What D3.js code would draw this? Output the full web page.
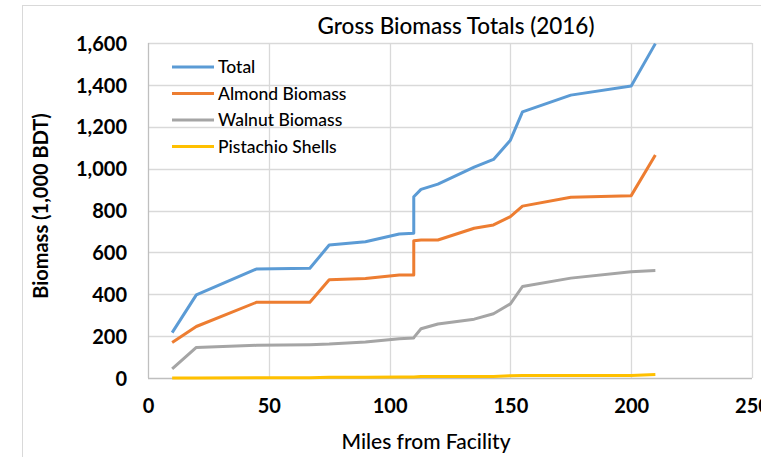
<!DOCTYPE html>
<html>
<head>
<meta charset="utf-8">
<script src="https://cdn.jsdelivr.net/npm/d3@7"></script>
<style>
  body { margin: 0; background: #ffffff; }
  svg { display: block; font-family: Lato, "Open Sans", sans-serif; }
</style>
</head>
<body>
<div id="chart"></div>
<script>
// global variables
var WIDTH = 761;
var HEIGHT = 457;
var MARGIN = { top: 43, right: 9, bottom: 79, left: 148 };

// data (miles, 1,000 BDT)
var miles     = [10, 20, 45, 67, 75, 90, 104, 110, 110, 113, 120, 135, 143, 150, 155, 175, 200, 210];
var total     = [217, 397, 521, 524, 635, 651, 688, 691, 866, 901, 926, 1007, 1044, 1136, 1271, 1351, 1395, 1597];
var almond    = [170, 246, 362, 362, 469, 475, 492, 492, 656, 659, 659, 715, 731, 771, 821, 863, 871, 1065];
var walnut    = [44, 146, 156, 159, 162, 172, 187, 191, 193, 235, 258, 281, 307, 354, 437, 477, 508, 513];
var pistachio = [0, 0, 1, 1, 4, 4, 5, 5, 5, 7, 7, 7, 7, 11, 12, 12, 12, 17];

var seriesNames  = ["Total", "Almond Biomass", "Walnut Biomass", "Pistachio Shells"];
var seriesColors = ["#5b9bd5", "#ed7d31", "#a5a5a5", "#ffc000"];
var seriesValues = [total, almond, walnut, pistachio];

var xTicks = [0, 50, 100, 150, 200, 250];
var yTicks = [0, 200, 400, 600, 800, 1000, 1200, 1400, 1600];

document.addEventListener("DOMContentLoaded", function() {
    drawChart();
});

function drawChart() {
    var svg = d3.select("#chart")
                .append("svg")
                .attr("width", WIDTH)
                .attr("height", HEIGHT);

    // outer chart frame (runs off the right and bottom edge)
    svg.append("rect")
       .attr("x", 22.5)
       .attr("y", 5.5)
       .attr("width", 800)
       .attr("height", 500)
       .attr("fill", "white")
       .attr("stroke", "#d9d9d9");

    var x = d3.scaleLinear()
              .domain([0, 250])
              .range([MARGIN.left, WIDTH - MARGIN.right]);
    var y = d3.scaleLinear()
              .domain([0, 1600])
              .range([HEIGHT - MARGIN.bottom, MARGIN.top]);

    // grid lines
    svg.append("g")
       .selectAll("line")
       .data(yTicks)
       .join("line")
       .attr("x1", x(0))
       .attr("x2", x(250))
       .attr("y1", function(d) { return Math.round(y(d)) + 0.5; })
       .attr("y2", function(d) { return Math.round(y(d)) + 0.5; })
       .attr("stroke", function(d) { return d == 0 ? "#bfbfbf" : "#d9d9d9"; })
       .attr("stroke-width", 1.3);

    svg.append("g")
       .selectAll("line")
       .data(xTicks)
       .join("line")
       .attr("x1", function(d) { return Math.round(x(d)) + 0.5; })
       .attr("x2", function(d) { return Math.round(x(d)) + 0.5; })
       .attr("y1", y(0))
       .attr("y2", y(1600))
       .attr("stroke", function(d) { return d == 0 ? "#bfbfbf" : "#d9d9d9"; })
       .attr("stroke-width", 1.3);

    // axes: labels only, the lines are the grid above
    var fmt = d3.format(",");
    var yAxis = svg.append("g")
                   .attr("transform", "translate(" + x(0) + ",0)")
                   .call(d3.axisLeft(y).tickValues(yTicks).tickFormat(fmt).tickSize(0).tickPadding(21));
    var xAxis = svg.append("g")
                   .attr("transform", "translate(0," + y(0) + ")")
                   .call(d3.axisBottom(x).tickValues(xTicks).tickSize(0).tickPadding(21));

    [xAxis, yAxis].forEach(function(ax) {
        ax.select(".domain").remove();
        ax.selectAll("text")
          .attr("fill", "#000")
          .style("font-family", "Lato, 'Open Sans', sans-serif")
          .style("font-size", "20px")
          .style("font-weight", "bold");
    });
    yAxis.selectAll("text").attr("dy", "0.36em");
    xAxis.selectAll("text").attr("dy", "0.7em");

    // series lines
    var line = d3.line()
                 .x(function(d, i) { return x(miles[i]); })
                 .y(function(d) { return y(d); });

    for (var s = seriesValues.length - 1; s >= 0; s--) {
        svg.append("path")
           .datum(seriesValues[s])
           .attr("d", line)
           .attr("fill", "none")
           .attr("stroke", seriesColors[s])
           .attr("stroke-width", 3)
           .attr("stroke-linejoin", "round");
    }

    // legend
    var legend = svg.append("g");
    for (var i = 0; i < seriesNames.length; i++) {
        var ly = 67 + i * 26.5;
        legend.append("line")
              .attr("x1", 172)
              .attr("x2", 214)
              .attr("y1", ly)
              .attr("y2", ly)
              .attr("stroke", seriesColors[i])
              .attr("stroke-width", 3);
        legend.append("text")
              .attr("x", 218)
              .attr("y", ly)
              .attr("dy", "0.35em")
              .style("font-size", "17.5px")
              .style("font-weight", 500)
              .text(seriesNames[i]);
    }

    // title
    svg.append("text")
       .attr("x", 456)
       .attr("y", 34)
       .attr("text-anchor", "middle")
       .style("font-size", "22.5px")
       .style("font-weight", 500)
       .text("Gross Biomass Totals (2016)");

    // axis titles
    svg.append("text")
       .attr("x", 426)
       .attr("y", 449)
       .attr("text-anchor", "middle")
       .style("font-size", "21px")
       .style("font-weight", 500)
       .text("Miles from Facility");

    svg.append("text")
       .attr("transform", "translate(48,206) rotate(-90)")
       .attr("text-anchor", "middle")
       .style("font-size", "20px")
       .style("font-weight", "bold")
       .text("Biomass (1,000 BDT)");
}
</script>
</body>
</html>
